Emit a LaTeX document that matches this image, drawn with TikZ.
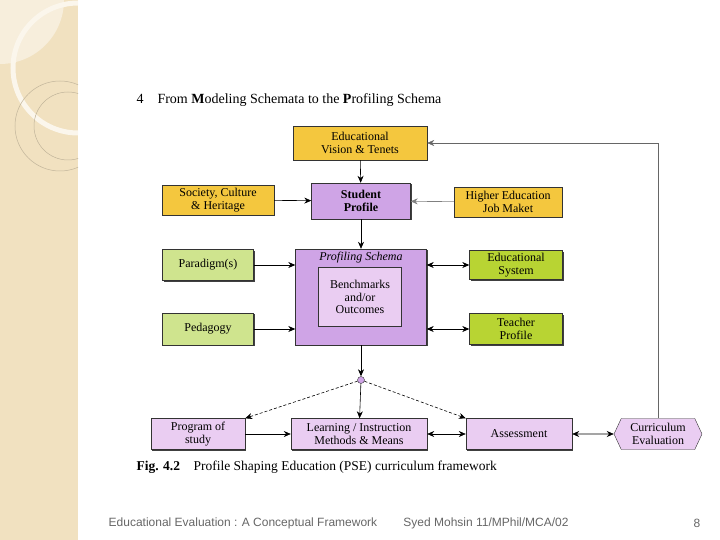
\documentclass[tikz,border=0pt]{standalone}
\usepackage{fontspec}
\setmainfont{Liberation Serif}
\setsansfont{Liberation Sans}
\usetikzlibrary{positioning,shapes,shadows,arrows.meta}
\definecolor{gold}{HTML}{F4C73E}
\definecolor{violet}{HTML}{CFA4E6}
\definecolor{lilac}{HTML}{EACDF2}
\definecolor{paleleaf}{HTML}{CFE48E}
\definecolor{leaf}{HTML}{B8D433}
\definecolor{sand}{HTML}{F1E1C0}
\newcommand{\boxfont}{\fontsize{12}{12.5}\selectfont}
\tikzset{
  box/.style={draw=black!80, font=\boxfont, align=center, inner sep=1pt,
    drop shadow={shadow xshift=1.2pt, shadow yshift=-1.2pt, fill=black!75, opacity=1}},
  arr/.style={-{Stealth[length=7pt,width=6pt]}, semithick},
  darr/.style={{Stealth[length=7pt,width=6pt]}-{Stealth[length=7pt,width=6pt]}, semithick}
}
\begin{document}
\begin{tikzpicture}[x=1pt,y=-1pt]
\useasboundingbox (0,0) rectangle (720,540);
% page background
\begin{scope}
\clip (0,0) rectangle (78,540);
\fill[sand] (0,0) rectangle (78,540);
\fill[white!45!sand] (0,0) circle[radius=64];
\draw[white!70!sand, line width=5pt] (78,68) circle[radius=65];
\draw[black!20!sand, line width=0.5pt] (60,126) circle[radius=45];
\draw[black!20!sand, line width=0.5pt] (68,126) circle[radius=34];
\end{scope}

% heading
\node[anchor=west, font=\fontsize{14}{16}\selectfont] (head) at (133,100) {4\quad From \textbf{M}odeling Schemata to the \textbf{P}rofiling Schema};

% top boxes
\node[box, fill=gold, minimum width=134pt, minimum height=34pt] (vision) at (360,143) {Educational\\Vision \& Tenets};
\node[box, fill=violet, minimum width=99pt, minimum height=36pt, font=\boxfont\bfseries] (student) at (361,201) {Student\\Profile};
\node[box, fill=gold, minimum width=112pt, minimum height=30pt] (society) at (218,200) {Society, Culture\\\& Heritage};
\node[box, fill=gold, minimum width=108pt, minimum height=30pt] (market) at (508,202) {Higher Education\\Job Maket};

% profiling schema
\node[box, fill=violet, minimum width=131pt, minimum height=96pt] (schema) at (361,297) {};
\node[font=\boxfont\itshape] (schematitle) at (361,258) {Profiling Schema};
\node[draw=black!80, fill=lilac, minimum width=83pt, minimum height=59pt, font=\boxfont, align=center] (bench) at (360,297) {Benchmarks\\and/or\\Outcomes};

\node[box, fill=paleleaf, minimum width=91pt, minimum height=31pt] (paradigm) at (208,265) {Paradigm(s)};
\node[box, fill=paleleaf, minimum width=91pt, minimum height=32pt] (pedagogy) at (208,329) {Pedagogy};
\node[box, fill=leaf, minimum width=93pt, minimum height=29pt] (system) at (516,265) {Educational\\System};
\node[box, fill=leaf, minimum width=93pt, minimum height=31pt] (teacher) at (516,329) {Teacher\\Profile};

% split point
\node[circle, draw=black!80, fill=violet, inner sep=0pt, minimum size=7pt] (hub) at (361,380) {};

% bottom row
\node[box, fill=lilac, minimum width=94pt, minimum height=31pt] (program) at (198,434) {Program of\\study};
\node[box, fill=lilac, minimum width=136pt, minimum height=31pt] (learning) at (359,434) {Learning / Instruction\\Methods \& Means};
\node[box, fill=lilac, minimum width=106pt, minimum height=31pt] (assess) at (519,434) {Assessment};
\node[draw=black!80, fill=lilac, signal, signal to=west and east, signal pointer angle=130,
  minimum width=88pt, minimum height=31pt, inner sep=1pt, font=\boxfont, align=center] (evaluation) at (658,434) {Curriculum\\Evaluation};
\coordinate (corner) at (658,143);

% connectors
\draw[arr] (vision) -- (student);
\draw[arr] (society) -- (student);
\draw[arr, black!50] (market) -- (student);
\draw[arr] (student) -- (schema);
\draw[arr] (paradigm.east) -- (schema.west |- paradigm.east);
\draw[arr] (pedagogy.east) -- (schema.west |- pedagogy.east);
\draw[darr] (schema.east |- system.west) -- (system.west);
\draw[darr] (schema.east |- teacher.west) -- (teacher.west);
\draw[arr] (schema) -- (hub);
\draw[arr, densely dashed] (hub) -- (program.north east);
\draw[arr] (hub) -- (learning);
\draw[arr, densely dashed] (hub) -- (assess.north west);
\draw[arr] (program) -- (learning);
\draw[darr] (learning) -- (assess);
\draw[darr] (assess) -- (evaluation);
\draw[arr, black!60, thin] (evaluation.north) -- (corner) -- (vision.east);

% caption and footer
\node[anchor=west, font=\fontsize{13.5}{15}\selectfont] (caption) at (133,467) {\textbf{Fig. 4.2}\quad Profile Shaping Education (PSE) curriculum framework};
\node[font=\sffamily\fontsize{12}{14}\selectfont, text=black!60] (foot1) at (243,523) {Educational Evaluation : A Conceptual Framework};
\node[font=\sffamily\fontsize{12}{14}\selectfont, text=black!60] (foot2) at (486,523) {Syed Mohsin 11/MPhil/MCA/02};
\node[font=\sffamily\fontsize{12}{14}\selectfont, text=black!60] (foot3) at (697,523) {8};
\end{tikzpicture}
\end{document}
